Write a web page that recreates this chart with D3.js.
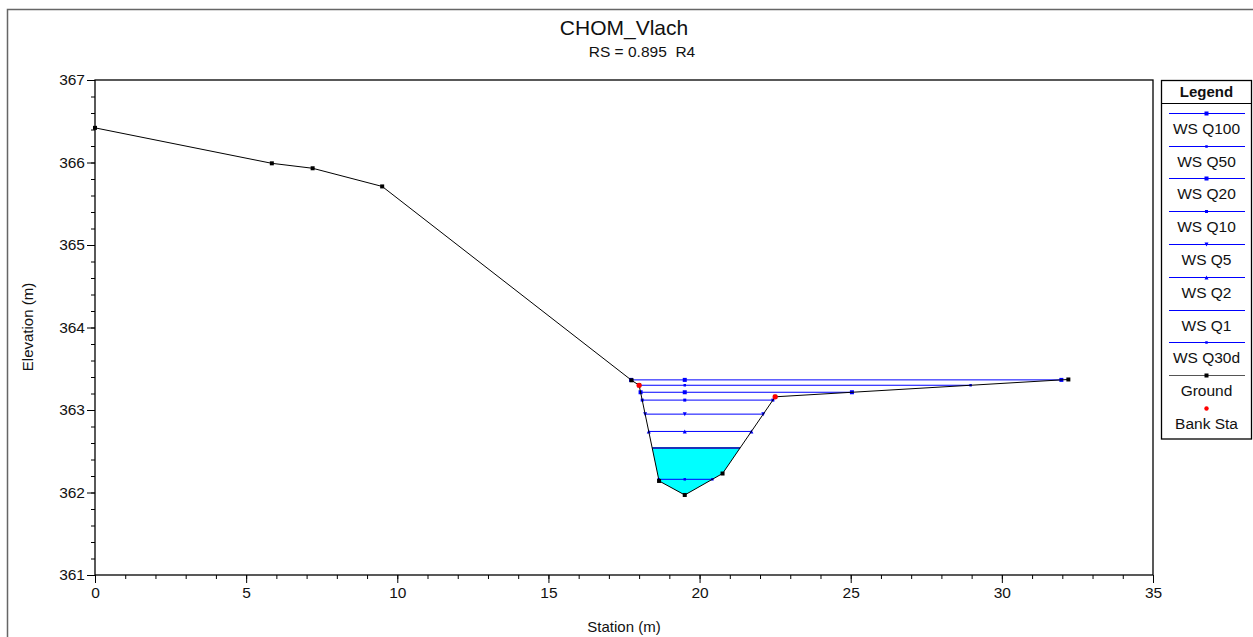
<!DOCTYPE html>
<html>
<head>
<meta charset="utf-8">
<script src="https://cdn.jsdelivr.net/npm/d3@7"></script>
<style>
  html, body { margin: 0; padding: 0; background: #fff; }
  svg { display: block; font-family: Arial, "Liberation Sans", sans-serif; }
  .pre { white-space: pre; }
</style>
</head>
<body>
<svg id="chart" width="1253" height="637"></svg>
<script>
// Cross-section ground geometry
const groundStation = [0, 5.85, 7.2, 9.5, 17.75, 18.0, 18.66, 19.51, 20.76, 22.5, 32.2];
const groundElevation = [366.42, 365.99, 365.93, 365.71, 363.36, 363.30, 362.14, 361.97, 362.23, 363.16, 363.37];
const bankStations = [18.0, 22.5];

// Water surface profiles
const profileNames = ["WS Q100", "WS Q50", "WS Q20", "WS Q10", "WS Q5", "WS Q2", "WS Q1", "WS Q30d"];
const profileElevation = [363.365, 363.30, 363.215, 363.12, 362.95, 362.74, 362.54, 362.16];
const filledProfile = "WS Q1";

// Axis ticks
const xTicks = [0, 5, 10, 15, 20, 25, 30, 35];
const yTicks = [361, 362, 363, 364, 365, 366, 367];

const titleText = "CHOM_Vlach";
const subtitleText = "RS = 0.895  R4";

// marker style per profile
const markerStyle = {
  "WS Q100": { shape: "square", size: 4 },
  "WS Q50": { shape: "square", size: 2.5 },
  "WS Q20": { shape: "square", size: 4 },
  "WS Q10": { shape: "square", size: 3 },
  "WS Q5": { shape: "triDown", size: 4 },
  "WS Q2": { shape: "triUp", size: 4 },
  "WS Q1": { shape: "none", size: 0 },
  "WS Q30d": { shape: "square", size: 2.5 }
};

const svg = d3.select("#chart");
const W = 1253, H = 637;
const plot = { left: 95, right: 1153, top: 80, bottom: 575 };

const x = d3.scaleLinear().domain([0, 35]).range([plot.left, plot.right]);
const y = d3.scaleLinear().domain([361, 367]).range([plot.bottom, plot.top]);

const ground = groundStation.map((s, i) => ({ s, z: groundElevation[i] }));

// outer window frame
svg.append("path")
  .attr("d", `M7.5,${H} L7.5,9.5 L${W},9.5`)
  .attr("fill", "none").attr("stroke", "#666").attr("stroke-width", 1.5);

// titles
svg.append("text").attr("x", 624).attr("y", 35).attr("text-anchor", "middle")
  .attr("font-size", 21).attr("fill", "#111").text(titleText);
svg.append("text").attr("class", "pre").attr("x", 642).attr("y", 57).attr("text-anchor", "middle")
  .attr("font-size", 15.5).attr("fill", "#111").text(subtitleText);

// find where a water level meets the ground on each side of the thalweg
const thalweg = d3.minIndex(ground, d => d.z);
function crossings(level) {
  let left = ground[0].s, right = ground[ground.length - 1].s;
  for (let i = thalweg; i > 0; i--) {
    const a = ground[i], b = ground[i - 1];
    if (b.z >= level) { left = a.s + (level - a.z) / (b.z - a.z) * (b.s - a.s); break; }
  }
  for (let i = thalweg; i < ground.length - 1; i++) {
    const a = ground[i], b = ground[i + 1];
    if (b.z >= level) { right = a.s + (level - a.z) / (b.z - a.z) * (b.s - a.s); break; }
  }
  return [left, right];
}

const gPlot = svg.append("g");

// filled water area for the selected profile
{
  const lvl = profileElevation[profileNames.indexOf(filledProfile)];
  const [l, r] = crossings(lvl);
  const pts = [{ s: l, z: lvl }];
  ground.forEach(d => { if (d.s > l && d.s < r) pts.push(d); });
  pts.push({ s: r, z: lvl });
  gPlot.append("path")
    .attr("d", d3.line().x(d => x(d.s)).y(d => y(d.z))(pts) + "Z")
    .attr("fill", "#00ffff").attr("stroke", "none");
}

function drawMarker(g, cx, cy, style, color) {
  const s = style.size;
  if (style.shape === "square") {
    g.append("rect").attr("x", cx - s / 2).attr("y", cy - s / 2)
      .attr("width", s).attr("height", s).attr("fill", color);
  } else if (style.shape === "triDown") {
    g.append("path").attr("d", `M${cx - s / 2},${cy - s / 2} L${cx + s / 2},${cy - s / 2} L${cx},${cy + s / 2}Z`).attr("fill", color);
  } else if (style.shape === "triUp") {
    g.append("path").attr("d", `M${cx - s / 2},${cy + s / 2} L${cx + s / 2},${cy + s / 2} L${cx},${cy - s / 2}Z`).attr("fill", color);
  }
}

// water surface lines
profileNames.forEach((name, i) => {
  const lvl = profileElevation[i];
  const [l, r] = crossings(lvl);
  const yy = y(lvl);
  const filled = name === filledProfile;
  gPlot.append("line")
    .attr("x1", x(l)).attr("x2", x(r)).attr("y1", yy).attr("y2", yy)
    .attr("stroke", filled ? "#1a33b8" : "#0000ff")
    .attr("stroke-width", filled ? 2 : 1);
  [l, ground[thalweg].s, r].forEach(s => drawMarker(gPlot, x(s), yy, markerStyle[name], "#0000ff"));
});

// ground line
gPlot.append("path")
  .attr("d", d3.line().x(d => x(d.s)).y(d => y(d.z))(ground))
  .attr("fill", "none").attr("stroke", "#000").attr("stroke-width", 1);
gPlot.selectAll("rect.gpt").data(ground).join("rect").attr("class", "gpt")
  .attr("x", d => x(d.s) - 2).attr("y", d => y(d.z) - 2)
  .attr("width", 4).attr("height", 4).attr("fill", "#000");

// bank stations
const bankElev = s => groundElevation[groundStation.indexOf(s)];
gPlot.selectAll("circle.bank").data(bankStations).join("circle").attr("class", "bank")
  .attr("cx", d => x(d)).attr("cy", d => y(bankElev(d))).attr("r", 2.6).attr("fill", "#ff0000");

// plot frame
svg.append("rect")
  .attr("x", plot.left).attr("y", plot.top)
  .attr("width", plot.right - plot.left).attr("height", plot.bottom - plot.top)
  .attr("fill", "none").attr("stroke", "#000").attr("stroke-width", 1.3);

// axes
const xMinor = d3.range(0, 35.001, 1);
const yMinor = d3.range(361, 367.001, 0.2);

const gx = svg.append("g").attr("transform", `translate(0,${plot.bottom})`);
gx.call(d3.axisBottom(x).tickValues(xMinor).tickSize(4).tickFormat(""));
gx.call(g => g.select(".domain").remove());
const gx2 = svg.append("g").attr("transform", `translate(0,${plot.bottom})`);
gx2.call(d3.axisBottom(x).tickValues(xTicks).tickSize(8).tickPadding(4).tickFormat(d3.format("d")));
gx2.select(".domain").remove();
gx2.selectAll("text").attr("font-size", 15.5).attr("fill", "#111").attr("font-family", "Arial, 'Liberation Sans', sans-serif");

const gy = svg.append("g").attr("transform", `translate(${plot.left},0)`);
gy.call(d3.axisLeft(y).tickValues(yMinor).tickSize(4).tickFormat(""));
gy.select(".domain").remove();
const gy2 = svg.append("g").attr("transform", `translate(${plot.left},0)`);
gy2.call(d3.axisLeft(y).tickValues(yTicks).tickSize(8).tickPadding(2).tickFormat(d3.format("d")));
gy2.select(".domain").remove();
gy2.selectAll("text").attr("font-size", 15.5).attr("fill", "#111").attr("font-family", "Arial, 'Liberation Sans', sans-serif");
svg.selectAll(".tick line").attr("stroke", "#000");

// axis titles
svg.append("text").attr("x", 624).attr("y", 632).attr("text-anchor", "middle")
  .attr("font-size", 15).attr("fill", "#111").text("Station (m)");
svg.append("text").attr("transform", "translate(33,327) rotate(-90)").attr("text-anchor", "middle")
  .attr("font-size", 15).attr("fill", "#111").text("Elevation (m)");

// legend
const lg = { left: 1161.5, right: 1251.5, top: 80.5, bottom: 439 };
const cxL = (lg.left + lg.right) / 2;
svg.append("rect").attr("x", lg.left).attr("y", lg.top)
  .attr("width", lg.right - lg.left).attr("height", lg.bottom - lg.top)
  .attr("fill", "#fff").attr("stroke", "#000").attr("stroke-width", 1.3);
svg.append("text").attr("x", cxL).attr("y", 97).attr("text-anchor", "middle")
  .attr("font-size", 15).attr("font-weight", "bold").attr("fill", "#111").text("Legend");
svg.append("line").attr("x1", lg.left).attr("x2", lg.right).attr("y1", 103.5).attr("y2", 103.5)
  .attr("stroke", "#000").attr("stroke-width", 1);

const legendItems = profileNames.concat(["Ground", "Bank Sta"]);
const rowH = 32.8, firstLine = 112.7;
legendItems.forEach((name, i) => {
  const ly = Math.round(firstLine + i * rowH) + 0.5;
  if (name === "Bank Sta") {
    svg.append("circle").attr("cx", cxL).attr("cy", ly).attr("r", 2.2).attr("fill", "#ff0000");
  } else {
    const col = name === "Ground" ? "#555" : "#0000ff";
    svg.append("line").attr("x1", 1169).attr("x2", 1245).attr("y1", ly).attr("y2", ly)
      .attr("stroke", col).attr("stroke-width", 1);
    if (name === "Ground") {
      svg.append("rect").attr("x", cxL - 2).attr("y", ly - 2).attr("width", 4).attr("height", 4).attr("fill", "#000");
    } else {
      drawMarker(svg, cxL, ly, markerStyle[name], "#0000ff");
    }
  }
  svg.append("text").attr("x", cxL).attr("y", ly + 20.5).attr("text-anchor", "middle")
    .attr("font-size", 15.5).attr("fill", "#111").text(name);
});
</script>
</body>
</html>
